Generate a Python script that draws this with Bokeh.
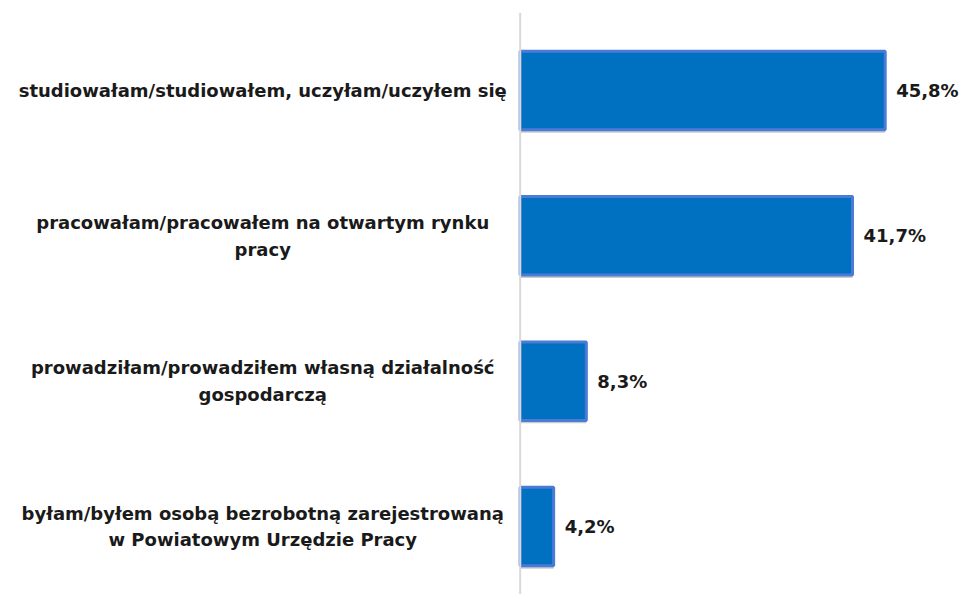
from bokeh.plotting import figure
from bokeh.models import ColumnDataSource, Range1d, Span
from bokeh.transform import dodge
from bokeh.core.properties import value
from bokeh.embed import file_html
from bokeh.resources import INLINE

categories = [
    "studiowałam/studiowałem, uczyłam/uczyłem się",
    "pracowałam/pracowałem na otwartym rynku\npracy",
    "prowadziłam/prowadziłem własną działalność\ngospodarczą",
    "byłam/byłem osobą bezrobotną zarejestrowaną\nw Powiatowym Urzędzie Pracy",
]
values = [45.8, 41.7, 8.3, 4.2]
value_labels = ["45,8%", "41,7%", "8,3%", "4,2%"]

n = len(categories)
ypos = [n - 1 - i for i in range(n)]
src = ColumnDataSource(dict(cat=categories, val=values, lab=value_labels, y=ypos,
                            lx=[-32.3] * n))

p = figure(width=962, height=594, output_backend="svg", toolbar_location=None,
           x_range=Range1d(-64.2, 55.5), y_range=Range1d(-0.468, 3.537),
           min_border_left=8, min_border_right=0, min_border_top=12, min_border_bottom=0)
p.xaxis.visible = False
p.yaxis.visible = False
p.xgrid.visible = False
p.ygrid.visible = False
p.outline_line_color = None
p.background_fill_color = "white"

p.add_layout(Span(location=0, dimension="height", line_color="#D9D9D9", line_width=2))

# shadow
p.hbar(y=dodge("y", -0.02, range=p.y_range), right="val", left=0, height=0.54, source=src,
       fill_color="#BFBFBF", line_color=None, fill_alpha=0.8)
p.hbar(y="y", right="val", left=0, height=0.54, source=src,
       fill_color="#0070C0", line_color="#4A7BD6", line_width=3)

p.text(x="val", y="y", text="lab", source=src, x_offset=11, text_align="left",
       text_baseline="middle", text_font=value("DejaVu Sans"), text_font_style="bold",
       text_font_size="18px", text_color="#1a1a1a")
p.text(x="lx", y="y", text="cat", source=src, text_align="center",
       text_baseline="middle", text_font=value("DejaVu Sans"), text_font_style="bold",
       text_font_size="18px", text_color="#1a1a1a", text_line_height=1.28)

open("out.html", "w").write(file_html(p, INLINE))
